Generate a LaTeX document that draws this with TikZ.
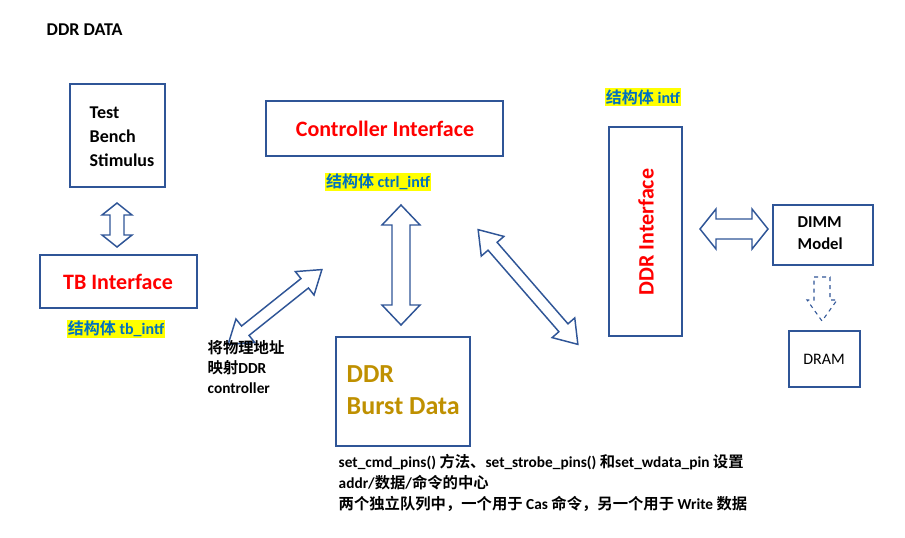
\documentclass[tikz,border=0pt]{standalone}
\usepackage{fontspec}
\setmainfont{Carlito}
\newfontfamily\cjk{Noto Sans CJK SC}[BoldFont=* Bold]
\definecolor{bx}{HTML}{2F5597}
\definecolor{rd}{HTML}{FF0000}
\definecolor{gd}{HTML}{BF9000}
\definecolor{hl}{HTML}{FFFF00}
\definecolor{cb}{HTML}{0070C0}
% #1 x, #2 y, #3 angle, #4 half length, #5 shaft half width, #6 head half width, #7 head length
\newcommand\blockdarrow[7]{%
 \begin{scope}[shift={(#1,#2)},rotate=#3]
 \draw[arr] (-#4,0) -- (-#4+#7,-#6) -- (-#4+#7,-#5) -- (#4-#7,-#5) -- (#4-#7,-#6) -- (#4,0)
   -- (#4-#7,#6) -- (#4-#7,#5) -- (-#4+#7,#5) -- (-#4+#7,#6) -- cycle;
 \end{scope}}
\begin{document}
\begin{tikzpicture}[x=0.75pt,y=-0.75pt,
 box/.style={draw=bx,line width=2.2pt},
 arr/.style={draw=bx,line width=1.1pt,fill=white,line join=miter},
 hlab/.style={fill=hl,inner sep=1pt,text=cb,font=\bfseries\large},
 every node/.append style={font=\bfseries}]
\useasboundingbox (0,0) rectangle (905,537);
\node[anchor=west,font=\bfseries\fontsize{13.5}{16}\selectfont] (title) at (42,30) {DDR DATA};
\draw[box] (70,84) rectangle (165,187);
\node[align=left,anchor=west,font=\bfseries\fontsize{13.5}{18}\selectfont] (tb) at (85,137) {Test\\Bench\\Stimulus};
\draw[box] (266,101) rectangle (503,156);
\node[text=rd,font=\bfseries\fontsize{16.5}{20}\selectfont] (ci) at (385,129) {Controller Interface};
\draw[box] (40,255) rectangle (197,308);
\node[text=rd,font=\bfseries\fontsize{16.5}{20}\selectfont] (tbi) at (118,282) {TB Interface};
\draw[box] (336,337) rectangle (470,446);
\node[text=gd,align=left,anchor=west,font=\bfseries\fontsize{19.5}{24}\selectfont] (bd) at (342,390) {DDR\\Burst Data};
\draw[box] (609,127) rectangle (682,336);
\node[text=rd,rotate=90,font=\bfseries\fontsize{16.5}{20}\selectfont] (ddi) at (646,232) {DDR Interface};
\draw[box] (773,205) rectangle (873,265);
\node[align=left,anchor=west,font=\bfseries\fontsize{12.5}{16}\selectfont] (dimm) at (793,233) {DIMM\\Model};
\draw[draw=bx,line width=1.5pt] (789,331) rectangle (860,387);
\node[font=\fontsize{12}{14}\selectfont] (dram) at (824,359) {DRAM};
\node[hlab] (l1) at (378,182) {{\cjk 结构体} ctrl\_intf};
\node[hlab] (l2) at (116,329) {{\cjk 结构体} tb\_intf};
\node[hlab] (l3) at (643,97) {{\cjk 结构体} intf};
\blockdarrow{117}{225}{90}{22}{7}{15}{12}
\blockdarrow{275}{307}{38.6}{60}{6}{15}{22}
\blockdarrow{401}{265}{90}{60}{9}{19}{20}
\blockdarrow{528}{287}{-49}{76}{6}{15}{22}
\blockdarrow{734}{229}{0}{34}{10}{20}{16}
\begin{scope}[shift={(822,299)}]
 \draw[draw=bx,dashed,line width=0.8pt] (-8,-22) -- (8,-22) -- (8,1) -- (15,1) -- (0,22) -- (-15,1) -- (-8,1) -- cycle;
\end{scope}
\node[align=left,anchor=north west,font=\bfseries\fontsize{11.5}{15}\selectfont] (note1) at (203,336) {{\cjk 将物理地址}\\{\cjk 映射}DDR\\controller};
\node[align=left,anchor=north west,font=\bfseries\fontsize{11.5}{15.5}\selectfont] (note2) at (334,450) {set\_cmd\_pins() {\cjk 方法、}set\_strobe\_pins() {\cjk 和}set\_wdata\_pin {\cjk 设置}\\addr/{\cjk 数据}/{\cjk 命令的中心}\\{\cjk 两个独立队列中，一个用于} Cas {\cjk 命令，另一个用于} Write {\cjk 数据}};
\end{tikzpicture}
\end{document}
